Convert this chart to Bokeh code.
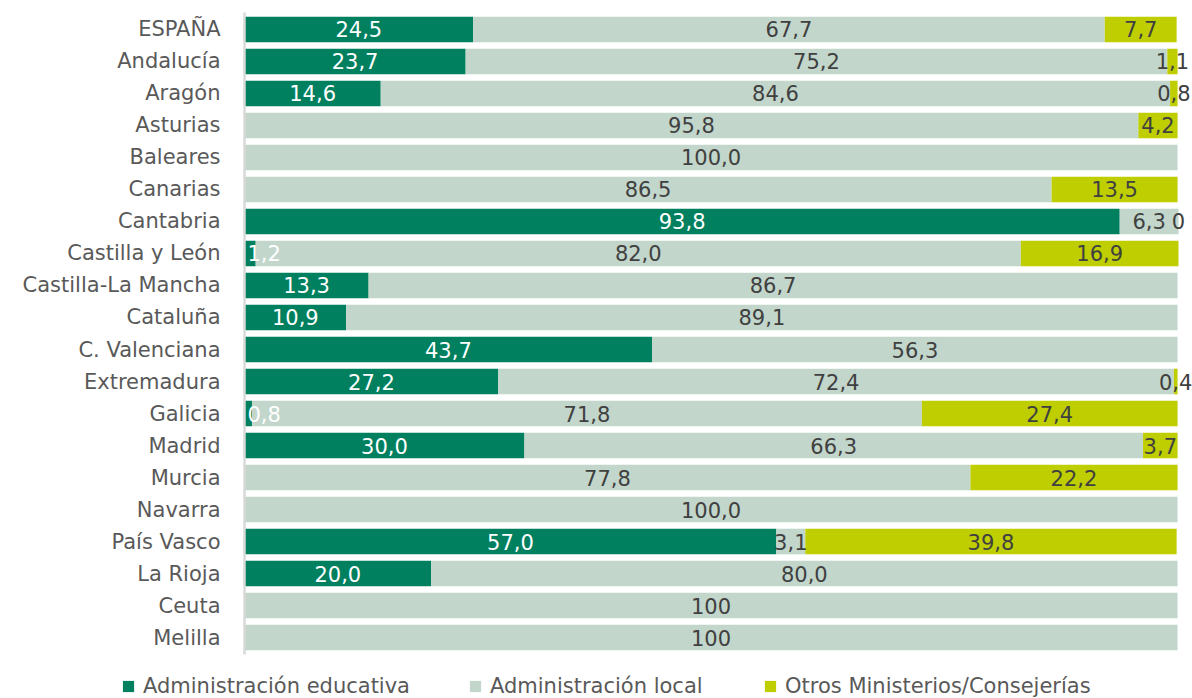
import numpy as np
from bokeh.plotting import figure
from bokeh.models import ColumnDataSource, Range1d, Legend, LegendItem
from bokeh.core.properties import value
from bokeh.embed import file_html
from bokeh.resources import INLINE

regions = ["ESPAÑA", "Andalucía", "Aragón", "Asturias", "Baleares", "Canarias",
           "Cantabria", "Castilla y León", "Castilla-La Mancha", "Cataluña",
           "C. Valenciana", "Extremadura", "Galicia", "Madrid", "Murcia",
           "Navarra", "País Vasco", "La Rioja", "Ceuta", "Melilla"]
educativa = [24.5, 23.7, 14.6, None, None, None, 93.8, 1.2, 13.3, 10.9,
             43.7, 27.2, 0.8, 30.0, None, None, 57.0, 20.0, None, None]
local = [67.7, 75.2, 84.6, 95.8, 100.0, 86.5, 6.3, 82.0, 86.7, 89.1,
         56.3, 72.4, 71.8, 66.3, 77.8, 100.0, 3.1, 80.0, 100, 100]
otros = [7.7, 1.1, 0.8, 4.2, None, 13.5, 0, 16.9, None, None,
         None, 0.4, 27.4, 3.7, 22.2, None, 39.8, None, None, None]
series_names = ["Administración educativa", "Administración local",
                "Otros Ministerios/Consejerías"]
colors = ["#00805F", "#C2D6CB", "#BFCE00"]
label_colors = ["#FFFFFF", "#404040", "#404040"]

FONT = "DejaVu Sans"
FS = "21px"


def fmt(v):
    if isinstance(v, int):
        return str(v)
    return f"{v:.1f}".replace(".", ",")


p = figure(width=1192, height=698,
           x_range=Range1d(-26.15, 101.6), y_range=Range1d(20.906, -0.906),
           output_backend="svg", toolbar_location=None,
           x_axis_location=None, y_axis_location=None, min_border=0)
p.outline_line_color = None
p.xgrid.visible = False
p.ygrid.visible = False
p.background_fill_color = "white"
p.border_fill_color = "white"

ypos = np.arange(len(regions))
cum = np.zeros(len(regions))
legend_renderers = []
label_sets = []
for name, vals, col, lcol in zip(series_names, [educativa, local, otros], colors, label_colors):
    ys, lefts, rights = [], [], []
    cy, cmid, clab = [], [], []   # centred labels
    ay, alab = [], []             # labels of thin first segments, kept right of the axis
    for i, v in enumerate(vals):
        if v is None:
            continue
        ys.append(ypos[i])
        lefts.append(cum[i])
        rights.append(cum[i] + v)
        if cum[i] == 0 and v < 3:
            ay.append(ypos[i])
            alab.append(fmt(v))
        else:
            cy.append(ypos[i])
            cmid.append(cum[i] + v / 2)
            clab.append(fmt(v))
        cum[i] += v
    src = ColumnDataSource(dict(y=ys, left=lefts, right=rights))
    r = p.hbar(y="y", left="left", right="right", height=0.8, source=src,
               fill_color=col, line_color=None)
    legend_renderers.append((name, r))
    label_sets.append((lcol, cy, cmid, clab, ay, alab))

for lcol, cy, cmid, clab, ay, alab in label_sets:
    p.text(x=cmid, y=cy, text=clab, text_align="center",
           text_baseline="middle", text_color=lcol,
           text_font=value(FONT), text_font_size=FS)
    if ay:
        p.text(x=[0] * len(ay), y=ay, text=alab, x_offset=3, text_align="left",
               text_baseline="middle", text_color=lcol,
               text_font=value(FONT), text_font_size=FS)

# category axis: line and labels
p.segment(x0=[0], y0=[-0.53], x1=[0], y1=[len(regions) - 0.47],
          line_color="#D9D9D9", line_width=2.5)
p.text(x=[0] * len(regions), y=ypos, text=regions, x_offset=-24,
       text_align="right", text_baseline="middle", text_color="#595959",
       text_font=value(FONT), text_font_size=FS)

legend_x = [121, 468, 763]
for (name, r), lx in zip(legend_renderers, legend_x):
    lg = Legend(items=[LegendItem(label=name, renderers=[r])],
                orientation="horizontal", location=(lx, 0),
                border_line_color=None, background_fill_alpha=0,
                label_text_font=FONT, label_text_font_size=FS,
                label_text_color="#595959", glyph_width=14, glyph_height=14,
                label_standoff=8, padding=0, margin=0, label_height=20)
    p.add_layout(lg)

open("out.html", "w").write(file_html(p, INLINE))
